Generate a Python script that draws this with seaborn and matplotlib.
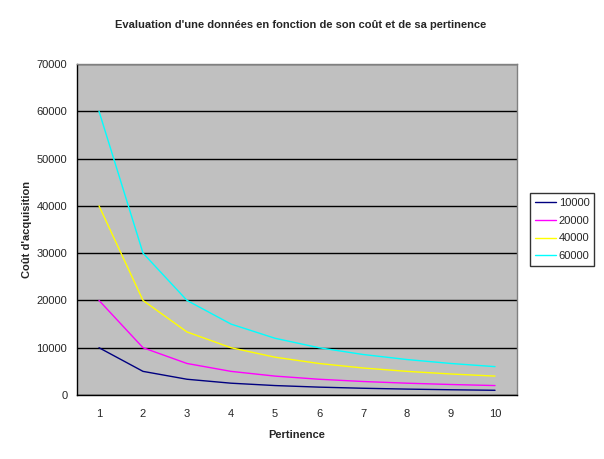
import numpy as np
import pandas as pd
import matplotlib
matplotlib.use("Agg")
import matplotlib.pyplot as plt
import seaborn as sns

# valeurs
pertinence = [1, 2, 3, 4, 5, 6, 7, 8, 9, 10]
serie_10000 = [10000, 5000, 3333, 2500, 2000, 1667, 1429, 1250, 1111, 1000]
serie_20000 = [20000, 10000, 6667, 5000, 4000, 3333, 2857, 2500, 2222, 2000]
serie_40000 = [40000, 20000, 13333, 10000, 8000, 6667, 5714, 5000, 4444, 4000]
serie_60000 = [60000, 30000, 20000, 15000, 12000, 10000, 8571, 7500, 6667, 6000]
noms = ["10000", "20000", "40000", "60000"]
couleurs = ["#000080", "#FF00FF", "#FFFF00", "#00FFFF"]

rows = []
for nom, vals in zip(noms, [serie_10000, serie_20000, serie_40000, serie_60000]):
    for p, v in zip(pertinence, vals):
        rows.append({"Pertinence": p, "cout": v, "serie": nom})
df = pd.DataFrame(rows)

sns.set_style("white")
plt.rcParams['font.family'] = ['Liberation Sans', 'DejaVu Sans']

fig = plt.figure(figsize=(6.04, 4.59), dpi=100)
ax = fig.add_axes([0.1275, 0.1394, 0.7285, 0.7212])
ax.set_facecolor("#C0C0C0")

sns.lineplot(data=df, x="Pertinence", y="cout", hue="serie", hue_order=noms,
             palette=couleurs, linewidth=1, ax=ax, legend=False)

ax.set_xlim(0.5, 10.5)
ax.set_ylim(0, 70000)
ax.set_yticks(np.arange(0, 70001, 10000))
ax.set_yticklabels([str(v) for v in range(0, 70001, 10000)], fontsize=8)
ax.set_xticks(pertinence)
ax.set_xticklabels([str(p) for p in pertinence], fontsize=8)
ax.set_xticks(np.arange(0.5, 11, 1), minor=True)
ax.tick_params(axis="x", which="major", length=0, pad=10)
ax.tick_params(axis="x", which="minor", length=4, width=1, color="black", direction="out")
ax.tick_params(axis="y", length=4, width=1, color="black", direction="out", pad=3)
ax.yaxis.grid(True, color="black", linewidth=1)
ax.set_axisbelow(True)

for s in ["left", "bottom"]:
    ax.spines[s].set_color("black")
    ax.spines[s].set_linewidth(1)
for s in ["top", "right"]:
    ax.spines[s].set_color("#808080")
    ax.spines[s].set_linewidth(1)

ax.set_xlabel("Pertinence", fontsize=8, fontweight="bold", labelpad=8)
ax.set_ylabel("Coût d'acquisition", fontsize=8, fontweight="bold", labelpad=3)
fig.text(0.497, 0.946, "Evaluation d'une données en fonction de son coût et de sa pertinence",
         ha="center", va="center", fontsize=8, fontweight="bold")

handles = [plt.Line2D([], [], color=c, linewidth=1) for c in couleurs]
leg = fig.legend(handles, noms, loc="center left", bbox_to_anchor=(0.877, 0.5),
                 fontsize=8, frameon=True, fancybox=False, handlelength=1.9,
                 handletextpad=0.25, labelspacing=0.7, borderpad=0.45, borderaxespad=0)
leg.get_frame().set_edgecolor("black")
leg.get_frame().set_linewidth(1)

fig.savefig("out.png", dpi=100)
